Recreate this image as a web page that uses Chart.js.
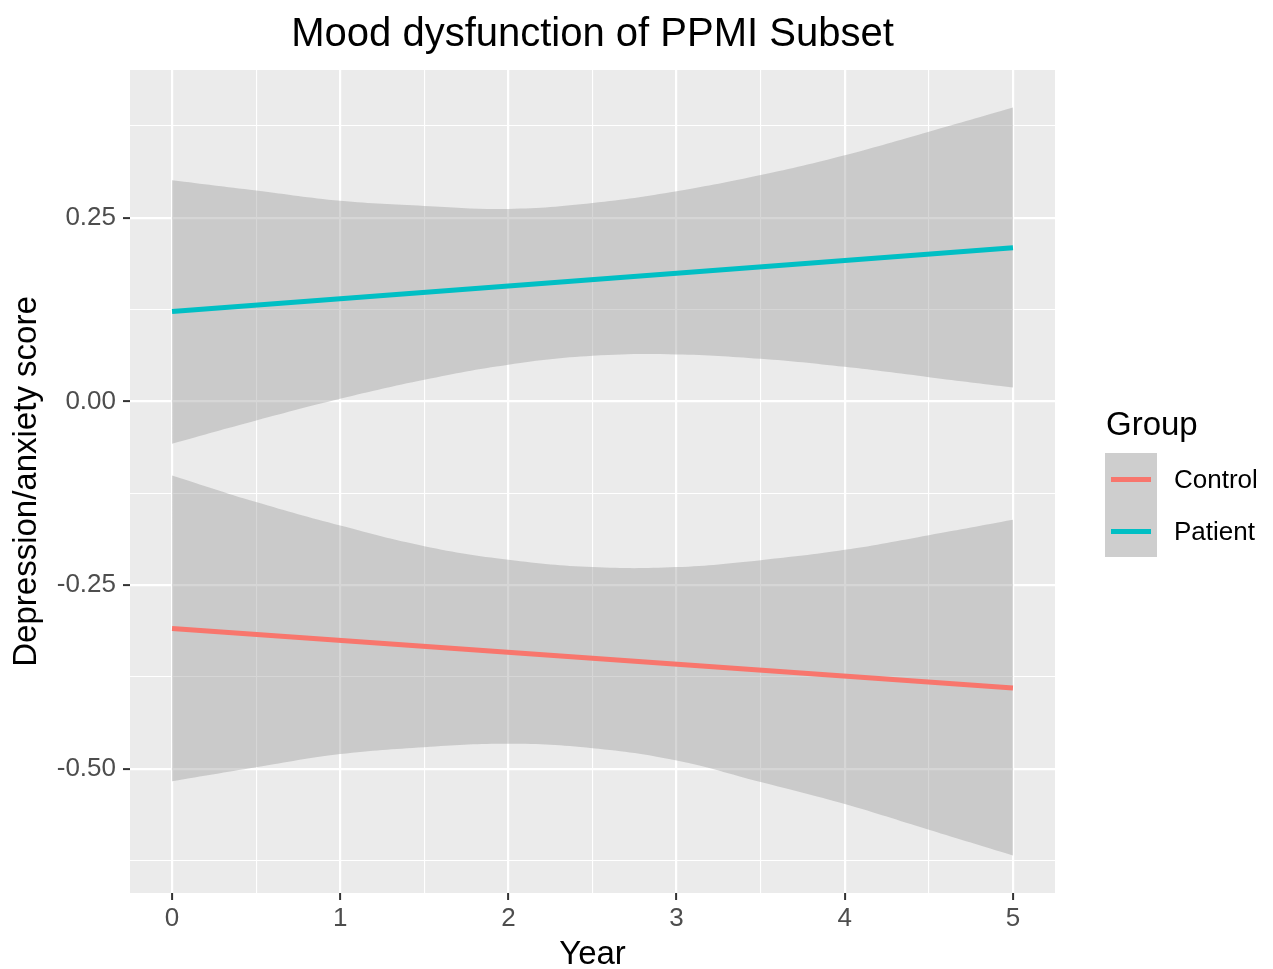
<!DOCTYPE html>
<html>
<head>
<meta charset="utf-8">
<script src="https://cdn.jsdelivr.net/npm/chart.js@4.4.1/dist/chart.umd.min.js"></script>
<style>
    body { margin: 0; background: #fff; font-family: 'Liberation Sans', Arial, sans-serif; }
    #wrap { position: relative; width: 1273px; height: 969px; }
    #title { position: absolute; left: 130px; width: 925px; top: 12px; line-height: 40px; font-size: 40px; text-align: center; color: #000; }
    #legend { position: absolute; left: 1105px; top: 404px; }
    #legend .lg-title { font-size: 33px; line-height: 40px; color: #000; margin-left: 1px; margin-bottom: 9px; }
    #legend .lg-row { position: relative; height: 52px; }
    #legend .lg-key { position: absolute; left: 0; top: 0; width: 52px; height: 52px; background: #cecece; }
    #legend .lg-line { position: absolute; left: 6px; top: 26px; width: 40px; height: 5px; margin-top: -2.5px; }
    #legend .lg-label { position: absolute; left: 69px; top: 0; line-height: 52px; font-size: 26px; color: #000; white-space: nowrap; }
</style>
</head>
<body>
<div id="wrap">
    <canvas id="chart"></canvas>
    <div id="title">Mood dysfunction of PPMI Subset</div>
    <div id="legend"></div>
</div>
<script>
// Data

const groups = ['Control', 'Patient'];
const groupColors = ['#F8766D', '#00BFC4'];

// fitted lines (year 0 and year 5)
const lineYears = [0, 5];
const controlFit = [-0.309, -0.390];
const patientFit = [0.1225, 0.209];

// confidence bands
const bandYears = [0, 0.5, 1, 1.5, 2, 2.5, 3, 3.5, 4, 4.5, 5];
const patientUpper = [0.301, 0.287, 0.273, 0.266, 0.262, 0.270, 0.286, 0.308, 0.335, 0.367, 0.400];
const patientLower = [-0.0576, -0.026, 0.0036, 0.0295, 0.050, 0.062, 0.064, 0.058, 0.047, 0.033, 0.019];
const controlUpper = [-0.1007, -0.137, -0.169, -0.197, -0.2155, -0.2255, -0.2255, -0.216, -0.202, -0.182, -0.161];
const controlLower = [-0.517, -0.498, -0.480, -0.4705, -0.466, -0.472, -0.4886, -0.518, -0.548, -0.583, -0.618];

// axes
const xMajorTicks = [0, 1, 2, 3, 4, 5];
const xMinorTicks = [0.5, 1.5, 2.5, 3.5, 4.5];
const yMajorTicks = [-0.5, -0.25, 0, 0.25];
const yMinorTicks = [-0.625, -0.375, -0.125, 0.125, 0.375];

function toPoints(xs, ys) {
    return xs.map((x, i) => ({ x: x, y: ys[i] }));
}

function isMajor(list, v) {
    return list.some(m => Math.abs(m - v) < 1e-9);
}

const bandFill = 'rgba(153, 153, 153, 0.4)';

function bandDataset(label, values, fill) {
    return {
        label: label,
        data: toPoints(bandYears, values),
        borderColor: 'transparent',
        borderWidth: 0,
        backgroundColor: bandFill,
        pointRadius: 0,
        tension: 0.4,
        fill: fill,
        order: 2
    };
}

function lineDataset(label, values, color) {
    return {
        label: label,
        data: toPoints(lineYears, values),
        borderColor: color,
        borderWidth: 5,
        pointRadius: 0,
        fill: false,
        order: 1
    };
}

const panelBg = {
    id: 'panelBg',
    beforeDraw(chart) {
        const { ctx, chartArea } = chart;
        ctx.save();
        ctx.fillStyle = '#EBEBEB';
        ctx.fillRect(chartArea.left, chartArea.top, chartArea.right - chartArea.left, chartArea.bottom - chartArea.top);
        ctx.restore();
    }
};

const tickFont = { family: "'Liberation Sans', Arial, sans-serif", size: 26 };
const titleFont = { family: "'Liberation Sans', Arial, sans-serif", size: 33 };

new Chart(document.getElementById('chart'), {
    type: 'line',
    data: {
        datasets: [
            bandDataset('Patient upper', patientUpper, '+1'),
            bandDataset('Patient lower', patientLower, false),
            bandDataset('Control upper', controlUpper, '+1'),
            bandDataset('Control lower', controlLower, false),
            lineDataset('Control', controlFit, groupColors[0]),
            lineDataset('Patient', patientFit, groupColors[1])
        ]
    },
    options: {
        responsive: true,
        maintainAspectRatio: false,
        animation: false,
        layout: { padding: { top: 70, right: 218, bottom: 0, left: 0 } },
        plugins: {
            legend: { display: false },
            title: { display: false },
            tooltip: { enabled: false }
        },
        scales: {
            x: {
                type: 'linear',
                min: -0.25,
                max: 5.25,
                afterBuildTicks: (scale) => {
                    scale.ticks = xMajorTicks.concat(xMinorTicks).sort((a, b) => a - b).map(v => ({ value: v }));
                },
                afterFit: (scale) => { scale.height = 76; },
                border: { display: false },
                grid: {
                    color: '#FFFFFF',
                    lineWidth: (ctx) => isMajor(xMajorTicks, ctx.tick.value) ? 2.2 : 1.1,
                    tickColor: (ctx) => isMajor(xMajorTicks, ctx.tick.value) ? '#333333' : 'rgba(0,0,0,0)',
                    tickWidth: 2,
                    tickLength: 7
                },
                ticks: {
                    color: '#4D4D4D',
                    font: tickFont,
                    padding: 3,
                    maxRotation: 0,
                    autoSkip: false,
                    callback: (v) => isMajor(xMajorTicks, v) ? String(v) : ''
                },
                title: {
                    display: true,
                    text: 'Year',
                    color: '#000',
                    font: Object.assign({}, titleFont, { lineHeight: 0.85 }),
                    padding: { top: 0, bottom: 0 }
                }
            },
            y: {
                type: 'linear',
                min: -0.669,
                max: 0.451,
                afterBuildTicks: (scale) => {
                    scale.ticks = yMajorTicks.concat(yMinorTicks).sort((a, b) => a - b).map(v => ({ value: v }));
                },
                afterFit: (scale) => { scale.width = 130; },
                border: { display: false },
                grid: {
                    color: '#FFFFFF',
                    lineWidth: (ctx) => isMajor(yMajorTicks, ctx.tick.value) ? 2.2 : 1.1,
                    tickColor: (ctx) => isMajor(yMajorTicks, ctx.tick.value) ? '#333333' : 'rgba(0,0,0,0)',
                    tickWidth: 2,
                    tickLength: 7
                },
                ticks: {
                    color: '#4D4D4D',
                    font: tickFont,
                    padding: 7,
                    autoSkip: false,
                    callback: (v) => isMajor(yMajorTicks, v) ? v.toFixed(2) : ''
                },
                title: {
                    display: true,
                    text: 'Depression/anxiety score',
                    color: '#000',
                    font: titleFont,
                    padding: { top: 7, bottom: 0 }
                }
            }
        }
    },
    plugins: [panelBg]
});

// legend on the right
const legendEl = document.getElementById('legend');
let html = '<div class="lg-title">Group</div>';
groups.forEach((g, i) => {
    html += `
        <div class="lg-row">
            <div class="lg-key"><div class="lg-line" style="background:${groupColors[i]}"></div></div>
            <div class="lg-label">${g}</div>
        </div>
    `;
});
legendEl.innerHTML = html;
</script>
</body>
</html>
